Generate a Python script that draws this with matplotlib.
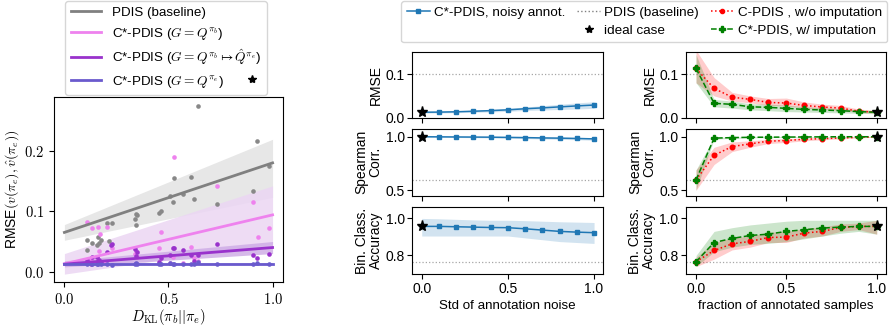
import matplotlib
matplotlib.use("Agg")
import matplotlib.pyplot as plt
from matplotlib.lines import Line2D
from matplotlib.ticker import FuncFormatter
import numpy as np

plt.rcParams['font.family'] = ['Liberation Sans', 'DejaVu Sans']
plt.rcParams['mathtext.fontset'] = 'cm'
plt.rcParams['font.size'] = 9.5

# ---- left panel: RMSE vs KL divergence (scatter + fitted lines) ----
kl_gray = [0.108, 0.108, 0.132, 0.156, 0.163, 0.168, 0.175, 0.213, 0.204, 0.228, 0.337, 0.343, 0.345,
           0.351, 0.454, 0.463, 0.508, 0.520, 0.527, 0.572, 0.609, 0.624, 0.641, 0.733, 0.904, 0.926, 0.984]
rmse_gray = [0.036, 0.052, 0.047, 0.044, 0.058, 0.047, 0.052, 0.050, 0.080, 0.080, 0.087, 0.078, 0.095,
             0.094, 0.0965, 0.100, 0.126, 0.115, 0.155, 0.128, 0.157, 0.120, 0.274, 0.112, 0.134, 0.216, 0.175]

kl_violet = [0.108, 0.132, 0.160, 0.204, 0.172, 0.167, 0.228, 0.156, 0.108, 0.337, 0.345, 0.350, 0.463,
             0.454, 0.508, 0.520, 0.526, 0.572, 0.609, 0.624, 0.641, 0.733, 0.906, 0.928, 0.984, 0.200, 0.130]
rmse_violet = [0.082, 0.072, 0.074, 0.074, 0.062, 0.035, 0.039, 0.025, 0.015, 0.030, 0.035, 0.025, 0.065,
               0.040, 0.015, 0.025, 0.189, 0.015, 0.041, 0.022, 0.018, 0.141, 0.115, 0.057, 0.073, 0.016, 0.020]

kl_orchid = [0.108, 0.132, 0.156, 0.163, 0.168, 0.175, 0.204, 0.228, 0.226, 0.337, 0.345, 0.351, 0.454,
             0.463, 0.508, 0.520, 0.526, 0.572, 0.609, 0.624, 0.641, 0.733, 0.904, 0.926, 0.984, 0.130]
rmse_orchid = [0.020, 0.024, 0.025, 0.018, 0.020, 0.016, 0.032, 0.046, 0.044, 0.037, 0.026, 0.033, 0.016,
               0.022, 0.027, 0.040, 0.039, 0.036, 0.028, 0.017, 0.027, 0.046, 0.028, 0.023, 0.030, 0.013]

kl_slate = [0.108, 0.132, 0.156, 0.163, 0.168, 0.175, 0.204, 0.228, 0.337, 0.345, 0.351, 0.454,
            0.463, 0.508, 0.520, 0.526, 0.572, 0.609, 0.624, 0.641, 0.733, 0.904, 0.926, 0.984]
rmse_slate = [0.013, 0.012, 0.013, 0.012, 0.014, 0.012, 0.013, 0.011, 0.013, 0.014, 0.012, 0.013,
              0.012, 0.014, 0.012, 0.013, 0.012, 0.013, 0.012, 0.016, 0.012, 0.012, 0.014, 0.012]

# fitted line and confidence band at KL = 0 and KL = 1
fit_x = [0.0, 1.0]
fit_gray = [0.065, 0.180]
band_gray_lo = [0.052, 0.123]
band_gray_hi = [0.078, 0.219]
fit_violet = [0.013, 0.094]
band_violet_lo = [-0.004, 0.046]
band_violet_hi = [0.030, 0.142]
fit_orchid = [0.0125, 0.040]
band_orchid_lo = [0.008, 0.030]
band_orchid_hi = [0.018, 0.050]
fit_slate = [0.013, 0.013]
band_slate_lo = [0.011, 0.011]
band_slate_hi = [0.015, 0.015]

# ---- right panels ----
noise_std = [0.0, 0.1, 0.2, 0.3, 0.4, 0.5, 0.6, 0.7, 0.8, 0.9, 1.0]
frac_annot = [0.0, 0.1, 0.2, 0.3, 0.4, 0.5, 0.6, 0.7, 0.8, 0.9, 1.0]

noisy_rmse = [0.0125, 0.0128, 0.0135, 0.0148, 0.0162, 0.018, 0.0205, 0.0225, 0.0248, 0.027, 0.029]
noisy_rmse_lo = [0.0105, 0.0108, 0.0115, 0.0123, 0.0132, 0.0145, 0.0165, 0.0175, 0.0188, 0.020, 0.0215]
noisy_rmse_hi = [0.0145, 0.0148, 0.0155, 0.0173, 0.0192, 0.0215, 0.0245, 0.0275, 0.0308, 0.034, 0.0365]
noisy_spear = [0.998, 0.997, 0.996, 0.995, 0.994, 0.992, 0.990, 0.987, 0.985, 0.982, 0.978]
noisy_spear_lo = [0.995, 0.993, 0.991, 0.989, 0.987, 0.984, 0.981, 0.977, 0.974, 0.970, 0.965]
noisy_spear_hi = [1.0, 1.0, 1.0, 1.0, 0.999, 0.998, 0.997, 0.995, 0.994, 0.992, 0.990]
noisy_acc = [0.957, 0.957, 0.955, 0.953, 0.951, 0.950, 0.944, 0.937, 0.930, 0.926, 0.923]
noisy_acc_lo = [0.905, 0.905, 0.905, 0.905, 0.905, 0.905, 0.895, 0.885, 0.875, 0.870, 0.865]
noisy_acc_hi = [1.0, 0.998, 0.995, 0.992, 0.990, 0.990, 0.988, 0.985, 0.982, 0.980, 0.978]

woimp_rmse = [0.113, 0.067, 0.047, 0.042, 0.035, 0.0336, 0.028, 0.0245, 0.022, 0.015, 0.0126]
woimp_rmse_lo = [0.080, 0.050, 0.038, 0.034, 0.028, 0.027, 0.022, 0.019, 0.017, 0.012, 0.010]
woimp_rmse_hi = [0.155, 0.092, 0.058, 0.050, 0.044, 0.045, 0.036, 0.031, 0.028, 0.020, 0.016]
woimp_spear = [0.596, 0.826, 0.907, 0.932, 0.957, 0.963, 0.975, 0.980, 0.987, 0.993, 0.997]
woimp_spear_lo = [0.50, 0.74, 0.86, 0.90, 0.935, 0.945, 0.96, 0.97, 0.978, 0.987, 0.994]
woimp_spear_hi = [0.69, 0.90, 0.95, 0.96, 0.975, 0.98, 0.988, 0.99, 0.995, 0.998, 1.0]
woimp_acc = [0.766, 0.827, 0.863, 0.876, 0.897, 0.899, 0.921, 0.930, 0.951, 0.957, 0.957]
woimp_acc_lo = [0.74, 0.78, 0.83, 0.845, 0.87, 0.87, 0.895, 0.905, 0.93, 0.94, 0.915]
woimp_acc_hi = [0.79, 0.87, 0.895, 0.905, 0.925, 0.93, 0.945, 0.955, 0.97, 0.975, 0.99]

wimp_rmse = [0.113, 0.033, 0.0306, 0.025, 0.0237, 0.0214, 0.019, 0.0176, 0.0161, 0.014, 0.0124]
wimp_rmse_lo = [0.080, 0.025, 0.022, 0.018, 0.016, 0.014, 0.013, 0.012, 0.011, 0.010, 0.009]
wimp_rmse_hi = [0.145, 0.042, 0.038, 0.032, 0.031, 0.029, 0.025, 0.023, 0.021, 0.018, 0.016]
wimp_spear = [0.596, 0.985, 0.990, 0.993, 0.994, 0.995, 0.996, 0.997, 0.998, 0.998, 0.998]
wimp_spear_lo = [0.50, 0.975, 0.983, 0.988, 0.990, 0.991, 0.992, 0.994, 0.995, 0.996, 0.996]
wimp_spear_hi = [0.69, 0.993, 0.996, 0.998, 0.998, 0.999, 1.0, 1.0, 1.0, 1.0, 1.0]
wimp_acc = [0.766, 0.870, 0.892, 0.908, 0.915, 0.930, 0.939, 0.948, 0.953, 0.957, 0.957]
wimp_acc_lo = [0.74, 0.82, 0.845, 0.86, 0.865, 0.875, 0.89, 0.905, 0.92, 0.93, 0.915]
wimp_acc_hi = [0.80, 0.93, 0.95, 0.965, 0.975, 0.985, 0.99, 0.99, 0.99, 0.99, 0.99]

baseline = [0.1, 0.596, 0.766]       # PDIS (baseline): rmse, spearman, accuracy
ideal = [0.0125, 1.0, 0.957]         # ideal case
metric_labels = ['RMSE', 'Spearman\nCorr.', 'Bin. Class.\nAccuracy']
ylims = [(0.0, 0.15), (0.45, 1.07), (0.70, 1.06)]
yticks = [[0.0, 0.1], [0.5, 1.0], [0.8, 1.0]]

fig = plt.figure(figsize=(8.91, 3.26), dpi=100)

# left
ax = fig.add_axes([0.0606, 0.135, 0.257, 0.5675])
series = [
    (kl_gray, rmse_gray, fit_gray, band_gray_lo, band_gray_hi, 'gray', '#888888', '#e3e3e3'),
    (kl_violet, rmse_violet, fit_violet, band_violet_lo, band_violet_hi, 'violet', 'violet', '#ebd6f3'),
    (kl_orchid, rmse_orchid, fit_orchid, band_orchid_lo, band_orchid_hi, 'darkorchid', 'darkorchid', '#cfaee6'),
    (kl_slate, rmse_slate, fit_slate, band_slate_lo, band_slate_hi, 'slateblue', 'slateblue', '#c9c3ee'),
]
for i, (kx, ky, fy, blo, bhi, lc, pc, bc) in enumerate(series):
    ax.fill_between(fit_x, blo, bhi, color=bc, alpha=0.85, lw=0, zorder=1 + i)
for i, (kx, ky, fy, blo, bhi, lc, pc, bc) in enumerate(series):
    ax.scatter(kx, ky, s=11, color=pc, lw=0, zorder=6 + i)
    ax.plot(fit_x, fy, color=lc, lw=2, zorder=10 + i)
ax.set_xlim(-0.05, 1.05)
ax.set_ylim(-0.017, 0.289)
ax.set_xticks([0.0, 0.5, 1.0])
ax.set_yticks([0.0, 0.1, 0.2])
fmt = FuncFormatter(lambda v, p: '$%.1f$' % v)
ax.xaxis.set_major_formatter(fmt)
ax.yaxis.set_major_formatter(fmt)
ax.tick_params(labelsize=10.5, length=3.5)
ax.set_xlabel(r'$D_{\mathrm{KL}}(\pi_b||\pi_e)$', fontsize=10.5, labelpad=0)
ax.set_ylabel(r'RMSE$(v(\pi_e), \hat{v}(\pi_e))$', fontsize=10, labelpad=2)

left_handles = [
    Line2D([], [], color='gray', lw=2, label='PDIS (baseline)'),
    Line2D([], [], color='violet', lw=2, label=r'C*-PDIS ($G = Q^{\pi_b}$)'),
    Line2D([], [], color='darkorchid', lw=2, label=r'C*-PDIS ($G = Q^{\pi_b} \mapsto \hat{Q}^{\pi_e}$)'),
    Line2D([], [], color='slateblue', lw=2, label=r'C*-PDIS ($G = Q^{\pi_e}$)          '),
]
fig.legend(handles=left_handles, loc='upper left', bbox_to_anchor=(64 / 891, 1.0),
           fontsize=9.6, handlelength=2.3, borderaxespad=0.1, labelspacing=0.42)
fig.add_artist(Line2D([252 / 891], [1 - 79 / 326], marker='*', color='black', ms=6,
                      linestyle='none', transform=fig.transFigure, zorder=20))

# right grid
col_left = [0.4627, 0.770]
col_w = [0.2137, 0.2241]
row_bottom = [0.639, 0.3997, 0.1595]
row_h = [0.2006, 0.2046, 0.2046]
noisy = [(noisy_rmse, noisy_rmse_lo, noisy_rmse_hi), (noisy_spear, noisy_spear_lo, noisy_spear_hi),
         (noisy_acc, noisy_acc_lo, noisy_acc_hi)]
woimp = [(woimp_rmse, woimp_rmse_lo, woimp_rmse_hi), (woimp_spear, woimp_spear_lo, woimp_spear_hi),
         (woimp_acc, woimp_acc_lo, woimp_acc_hi)]
wimp = [(wimp_rmse, wimp_rmse_lo, wimp_rmse_hi), (wimp_spear, wimp_spear_lo, wimp_spear_hi),
        (wimp_acc, wimp_acc_lo, wimp_acc_hi)]

for r in range(3):
    for c in range(2):
        a = fig.add_axes([col_left[c], row_bottom[r], col_w[c], row_h[r]])
        a.axhline(baseline[r], color='gray', ls=':', lw=0.9, alpha=0.7, zorder=1)
        if c == 0:
            m, lo, hi = noisy[r]
            a.fill_between(noise_std, lo, hi, color='tab:blue', alpha=0.2, lw=0)
            a.plot(noise_std, m, color='tab:blue', marker='s', ms=3.3, lw=1.1)
            a.plot([noise_std[0]], [ideal[r]], marker='*', color='black', ms=8, ls='none', zorder=10)
        else:
            m, lo, hi = woimp[r]
            a.fill_between(frac_annot, lo, hi, color='red', alpha=0.2, lw=0)
            m2, lo2, hi2 = wimp[r]
            a.fill_between(frac_annot, lo2, hi2, color='green', alpha=0.2, lw=0)
            a.plot(frac_annot, m, color='red', ls=':', marker='o', ms=3.3, lw=1.1)
            a.plot(frac_annot, m2, color='green', ls='--', marker='P', ms=4.3, lw=1.1)
            a.plot([frac_annot[-1]], [ideal[r]], marker='*', color='black', ms=8, ls='none', zorder=10)
        a.set_xlim(-0.055, 1.05)
        a.set_ylim(*ylims[r])
        a.set_yticks(yticks[r])
        a.set_xticks([0.0, 0.5, 1.0])
        a.set_ylabel(metric_labels[r], fontsize=10, labelpad=2, linespacing=1.0)
        a.tick_params(labelsize=10, length=3.5, pad=2)
        if r < 2:
            a.tick_params(labelbottom=False)
        else:
            a.set_xlabel('Std of annotation noise' if c == 0 else 'fraction of annotated samples',
                         fontsize=9.6, labelpad=3)

top_handles = [
    Line2D([], [], color='tab:blue', marker='s', ms=3, lw=1.1, label='C*-PDIS, noisy annot.'),
    Line2D([], [], color='none', label=' '),
    Line2D([], [], color='gray', ls=':', lw=1, label='PDIS (baseline)'),
    Line2D([], [], color='black', marker='*', ms=6, ls='none', label='ideal case'),
    Line2D([], [], color='red', ls=':', marker='o', ms=3, lw=1.1, label='C-PDIS , w/o imputation'),
    Line2D([], [], color='green', ls='--', marker='P', ms=4, lw=1.1, label='C*-PDIS, w/ imputation'),
]
fig.legend(handles=top_handles, loc='upper left', bbox_to_anchor=(400 / 891, 1.0), ncol=3,
           fontsize=9.7, handlelength=1.7, handletextpad=0.3, borderaxespad=0.1,
           columnspacing=0.9, labelspacing=0.4)

fig.savefig('out.png', dpi=100)
